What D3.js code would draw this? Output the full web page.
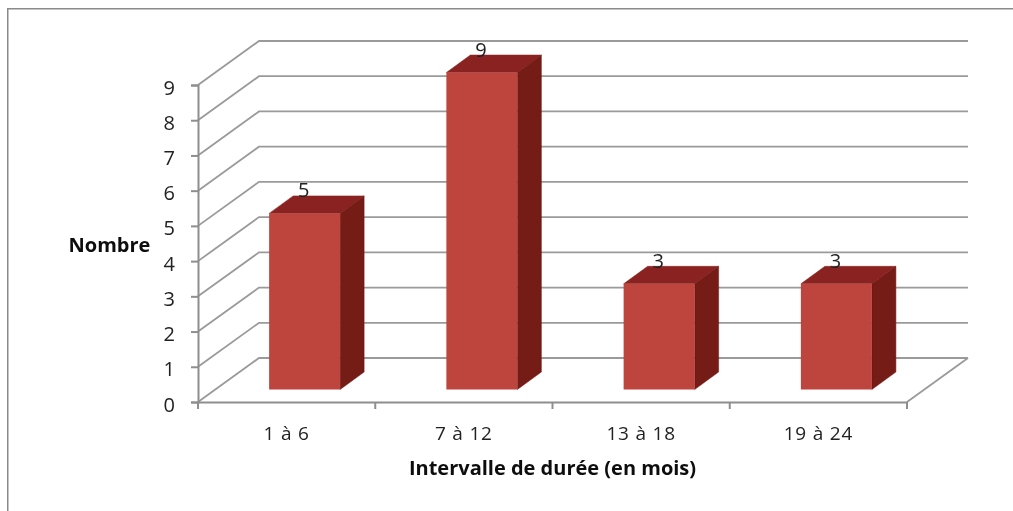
<!DOCTYPE html>
<html><head><meta charset="utf-8">
<script src="https://cdn.jsdelivr.net/npm/d3@7"></script>
<style>
html,body{margin:0;padding:0;background:#fff}
svg{display:block}
text{font-family:"Open Sans",sans-serif;fill:#222}
</style></head><body>
<svg id="c" width="1013" height="511"></svg>
<script>
const categories = ["1 à 6","7 à 12","13 à 18","19 à 24"];
const values = [5,9,3,3];
const yTicks = [0,1,2,3,4,5,6,7,8,9];
const xTitle = "Intervalle de durée (en mois)";
const yTitle = "Nombre";

const root = d3.select("#c");
root.append("defs").append("filter").attr("id","soft").attr("x",0).attr("y",0).attr("width","100%").attr("height","100%")
  .append("feGaussianBlur").attr("stdDeviation",0.45);
root.append("rect").attr("width",1013).attr("height",511).attr("fill","#fff");
const svg = root.append("g").attr("filter","url(#soft)");
const gridColor = "#9a9a9a";
const axisColor = "#8e8e8e";
const left = 198, right = 907, base = 402, top9 = 85;
const backDx = 61, backDy = -44;
const x = d3.scaleBand().domain(categories).range([left,right]).paddingInner(0).paddingOuter(0);
const y = d3.scaleLinear().domain([0,9]).range([base,top9]);

// outer frame
svg.append("path").attr("d","M7.5,511V8.5H1013").attr("fill","none").attr("stroke","#8a8a8a").attr("stroke-width",2);

// gridlines on floor/side wall/back wall
const grid = svg.append("g").attr("fill","none").attr("stroke",gridColor).attr("stroke-width",1.8);
grid.selectAll("path").data(yTicks).join("path")
  .attr("d",v=>`M${left},${y(v)}L${left+backDx},${y(v)+backDy}H${right+backDx}`);
grid.append("path").attr("d",`M${right},${base}L${right+backDx},${base+backDy}`);

// axes
const gx = svg.append("g").attr("transform",`translate(0,${base})`)
  .call(d3.axisBottom(x).tickSizeInner(0).tickSizeOuter(0).tickFormat(c=>c));
gx.select(".domain").attr("stroke",axisColor).attr("stroke-width",2);
gx.selectAll(".tick line").remove();
gx.selectAll(".tick text").attr("y",37.5).attr("dy",0).attr("font-size",19)
  .style("letter-spacing","0.8px").style("fill","#222");
const edges = categories.map(c=>x(c)).concat([right]);
gx.selectAll(".edge").data(edges).join("line").attr("class","edge")
  .attr("x1",d=>d).attr("x2",d=>d).attr("y1",0).attr("y2",7)
  .attr("stroke",axisColor).attr("stroke-width",2);

const gy = svg.append("g").attr("transform",`translate(${left},0)`)
  .call(d3.axisLeft(y).tickValues(yTicks).tickSize(7).tickPadding(16).tickFormat(d3.format("d")));
gy.select(".domain").attr("stroke",axisColor).attr("stroke-width",2);
gy.selectAll(".tick line").attr("stroke",axisColor).attr("stroke-width",2);
gy.selectAll(".tick text").attr("font-size",20).attr("dy",9).style("fill","#222");

// bars
const depthX = 24, depthY = -17.5, barW = 71, floorDx = 17, floorY = -12.5;
const bar = svg.append("g").selectAll("g").data(categories).join("g");
const X0 = c=>x(c)+x.bandwidth()/2-barW/2+floorDx+1;
const Yb = ()=>base+floorY;
const Yt = (i)=>y(values[i])+floorY;
bar.append("path").attr("fill","#8a2420").attr("stroke","#8a2420").attr("stroke-width",0.5)
  .attr("d",(c,i)=>`M${X0(c)},${Yt(i)}l${depthX},${depthY}h${barW}l${-depthX},${-depthY}z`);
bar.append("path").attr("fill","#751a16").attr("stroke","#751a16").attr("stroke-width",0.5)
  .attr("d",(c,i)=>`M${X0(c)+barW},${Yt(i)}l${depthX},${depthY}V${Yb()+depthY}l${-depthX},${-depthY}z`);
bar.append("rect").attr("fill","#bd443c")
  .attr("x",c=>X0(c)).attr("y",(c,i)=>Yt(i)).attr("width",barW).attr("height",(c,i)=>Yb()-Yt(i));
bar.append("text").attr("text-anchor","middle").attr("font-size",20)
  .attr("x",c=>X0(c)+barW/2-1).attr("y",(c,i)=>Yt(i)-16).text((c,i)=>values[i]);

// titles
svg.append("text").attr("x",109.5).attr("y",252).attr("text-anchor","middle")
  .attr("font-size",20).attr("font-weight",700).style("fill","#111").text(yTitle);
svg.append("text").attr("x",552.5).attr("y",475).attr("text-anchor","middle")
  .attr("font-size",20).attr("font-weight",700).style("fill","#111").text(xTitle);
</script>
</body></html>
